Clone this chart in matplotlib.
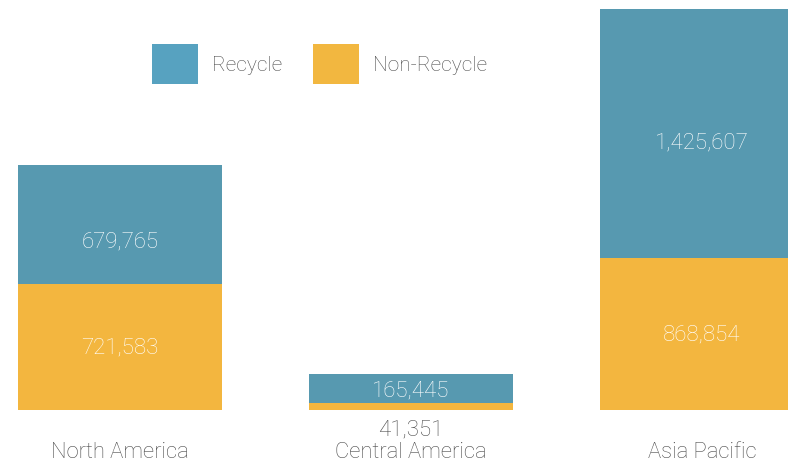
import matplotlib.pyplot as plt
from matplotlib.patches import Patch

# Data for the plot
regions = ["North America", "Central America", "Asia Pacific"]
non_recycle = [721583, 41351, 868854]
recycle = [679765, 165445, 1425607]

teal = "#5799b0"
orange = "#f3b63f"
grey = "#4a4a4a"
plt.rcParams['font.family'] = ['Roboto', 'DejaVu Sans']
plt.rcParams['font.weight'] = 'light'

fig = plt.figure(figsize=(7.88, 4.64), dpi=100)
ax = fig.add_axes([0, 0, 1, 1])

x = range(len(regions))
bars_nr = ax.bar(x, non_recycle, width=0.70, color=orange, edgecolor="none")
bars_r = ax.bar(x, recycle, width=0.70, bottom=non_recycle, color=teal, edgecolor="none")

# pixel layout: category centres 120/411/702 px, baseline 411 px from top
ax.set_xlim(-120 / 291, (788 - 120) / 291)
scale = sum([non_recycle[2], recycle[2]]) / 401
ax.set_ylim(-53 * scale, 411 * scale)
ax.axis("off")

# recycle labels sit a little below the middle of their segment in the original
shift_px = [16, 2, 8]

# Value labels
for i in x:
    r_bar = bars_r[i]
    cy = r_bar.get_y() + r_bar.get_height() / 2 - shift_px[i] * scale
    ax.text(i, cy, f"{recycle[i]:,}", ha="center", va="center", fontsize=16, color="white")
    if non_recycle[i] > 200000:
        ax.text(i, non_recycle[i] / 2, f"{non_recycle[i]:,}", ha="center", va="center",
                fontsize=16, color="white")
    else:
        ax.text(i, -19 * scale, f"{non_recycle[i]:,}", ha="center", va="center",
                fontsize=16, color=grey)

# Category labels
for i, name in enumerate(regions):
    ax.text(i, -42 * scale, name, ha="center", va="center", fontsize=15.8, color=grey)

handles = [Patch(facecolor="#57a2c0"), Patch(facecolor="#f2b740")]
leg = fig.legend(handles, ["Recycle", "Non-Recycle"], ncol=2, frameon=False,
                 loc="upper left", bbox_to_anchor=(152 / 788, 1 - 45 / 464),
                 fontsize=15, handlelength=2.2, handleheight=2.58, handletextpad=0.67,
                 columnspacing=1.5, borderpad=0, borderaxespad=0)
for t in leg.get_texts():
    t.set_color(grey)

fig.savefig("out.png", dpi=100)
